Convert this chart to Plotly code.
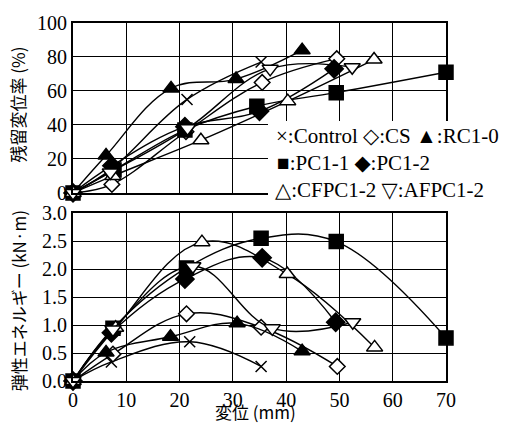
import plotly.graph_objects as go

# ---- data: residual displacement ratio (%) vs displacement (mm)
names = ["Control", "CS", "RC1-0", "PC1-1", "PC1-2", "CFPC1-2", "AFPC1-2"]

res_x = {
    "Control": [0, 7.2, 21.4, 35.3],
    "CS": [0, 7.3, 21.2, 35.5, 49.5],
    "RC1-0": [0, 6.2, 18.4, 30.6, 43.0],
    "PC1-1": [0, 7.7, 21.0, 34.5, 49.4, 70.0],
    "PC1-2": [0, 7.3, 21.0, 35.0, 49.0],
    "CFPC1-2": [0, 7.5, 24.0, 40.3, 56.5],
    "AFPC1-2": [0, 7.0, 21.5, 37.0, 52.4],
}
res_y = {
    "Control": [0, 14, 55, 77],
    "CS": [0, 5, 36, 65, 79],
    "RC1-0": [0, 22, 61.5, 67, 84],
    "PC1-1": [0, 13.5, 37, 51, 59, 71],
    "PC1-2": [0, 16, 39, 48, 73],
    "CFPC1-2": [0, 10, 31, 54, 78.5],
    "AFPC1-2": [0, 12, 38, 73, 74],
}

# ---- data: elastic energy (kN·m) vs displacement (mm)
en_x = {
    "Control": [0, 7.2, 21.9, 35.3],
    "CS": [0, 7.5, 21.3, 35.3, 49.6],
    "RC1-0": [0, 6.2, 18.3, 30.8, 43.0],
    "PC1-1": [0, 7.5, 21.3, 35.3, 49.4, 70.0],
    "PC1-2": [0, 7.2, 21.0, 35.5, 49.3],
    "CFPC1-2": [0, 8.0, 24.2, 40.2, 56.6],
    "AFPC1-2": [0, 7.5, 22.5, 37.4, 52.5],
}
en_y = {
    "Control": [0, 0.34, 0.70, 0.26],
    "CS": [0, 0.48, 1.20, 0.96, 0.26],
    "RC1-0": [0, 0.51, 0.79, 1.03, 0.53],
    "PC1-1": [0, 0.94, 2.02, 2.55, 2.49, 0.77],
    "PC1-2": [0, 0.86, 1.82, 2.20, 1.05],
    "CFPC1-2": [0, 0.95, 2.48, 1.91, 0.60],
    "AFPC1-2": [0, 0.92, 2.05, 0.94, 1.05],
}

legend_rows = ["×:Control ◇:CS ▲:RC1-0", "■:PC1-1 ◆:PC1-2", "△:CFPC1-2 ▽:AFPC1-2"]
y1_title = "残留変位率 (%)"
y2_title = "弾性エネルギー (kN·m)"
x_title = "変位 (mm)"

sym = {
    "Control": ("x-thin", "black", 11),
    "CS": ("diamond", "white", 12),
    "RC1-0": ("triangle-up", "black", 14),
    "PC1-1": ("square", "black", 14),
    "PC1-2": ("diamond", "black", 14),
    "CFPC1-2": ("triangle-up", "white", 14),
    "AFPC1-2": ("triangle-down", "white", 14),
}

fig = go.Figure()
for n in names:
    s, c, sz = sym[n]
    mk = dict(symbol=s, color=c, size=sz, line=dict(color="black", width=1.5))
    fig.add_trace(go.Scatter(x=res_x[n], y=res_y[n], mode="lines+markers",
                             line=dict(color="black", width=1.4, shape="spline", smoothing=1.1),
                             marker=mk, cliponaxis=False, showlegend=False,
                             xaxis="x", yaxis="y"))
for n in names:
    s, c, sz = sym[n]
    mk = dict(symbol=s, color=c, size=sz, line=dict(color="black", width=1.5))
    fig.add_trace(go.Scatter(x=en_x[n], y=en_y[n], mode="lines+markers",
                             line=dict(color="black", width=1.4, shape="spline", smoothing=1.1),
                             marker=mk, cliponaxis=False, showlegend=False,
                             xaxis="x2", yaxis="y2"))

L, R, T, B = 73, 62, 15, 35
W, H = 508, 423
pw, ph = W - L - R, H - T - B


def px(x):
    return (x - L) / pw


def py(y):
    return (H - B - y) / ph


SERIF = "Liberation Serif"
font_num = dict(family=SERIF, size=20, color="black")
ax_common = dict(showgrid=True, gridcolor="black", gridwidth=1, showline=True,
                 linecolor="black", linewidth=2, mirror=True, zeroline=False,
                 ticks="", tickfont=font_num)

fig.update_layout(
    width=W, height=H, margin=dict(l=L, r=R, t=T, b=B),
    paper_bgcolor="white", plot_bgcolor="white",
    font=dict(family=SERIF, color="black"),
    xaxis=dict(range=[0, 70], dtick=10, showticklabels=False, anchor="y",
               domain=[0, 1], **ax_common),
    yaxis=dict(range=[0, 100], dtick=20, domain=[py(192), 1], anchor="x", **ax_common),
    xaxis2=dict(range=[0, 70], dtick=10, anchor="y2", domain=[0, 1], **ax_common),
    yaxis2=dict(range=[0, 3.0], dtick=0.5, tickformat=".1f", domain=[0, py(213)],
                anchor="x2", **ax_common),
)

fig.add_shape(type="rect", xref="paper", yref="paper", x0=px(268), x1=px(452),
              y0=py(202), y1=py(117), fillcolor="white", line=dict(width=0), layer="above")

lfont = dict(family="Liberation Serif, DejaVu Sans", size=21, color="black")
for txt, lx, ly in zip(legend_rows, [274, 275, 273], [133, 161, 189]):
    fig.add_annotation(text=txt, xref="paper", yref="paper", x=px(lx), y=py(ly),
                       xanchor="left", yanchor="middle", showarrow=False, font=lfont)

tfont = dict(family="Noto Sans CJK JP", size=17, color="black")
fig.add_annotation(text=y1_title, xref="paper", yref="paper", x=px(18), y=py(100),
                   textangle=-90, showarrow=False, font=tfont, xanchor="center", yanchor="middle")
fig.add_annotation(text=y2_title, xref="paper", yref="paper", x=px(18), y=py(305),
                   textangle=-90, showarrow=False, font=tfont, xanchor="center", yanchor="middle")
fig.add_annotation(text=x_title, xref="paper", yref="paper", x=px(255), y=py(420),
                   showarrow=False, font=tfont, xanchor="center", yanchor="middle")

fig.write_html("out.html")
